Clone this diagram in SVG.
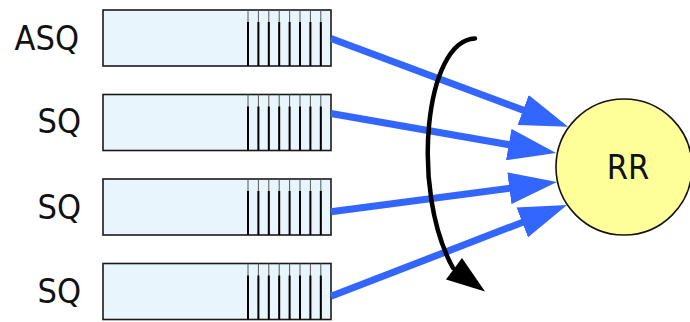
<svg xmlns="http://www.w3.org/2000/svg" width="690" height="322" viewBox="0 0 690 322">
<defs>
<style>
.lbl{font-family:"DejaVu Sans","Liberation Sans",sans-serif;font-stretch:condensed;font-size:34px;fill:#111}
.box{fill:#E9F5FD;stroke:#1a1a1a;stroke-width:1.6}
.thin{stroke:#555;stroke-width:1}
.slot{stroke:#000;stroke-width:2}
.flow{stroke:#3366FF;stroke-width:7;fill:none}
</style>
<marker id="ah" markerUnits="userSpaceOnUse" markerWidth="48" markerHeight="32" viewBox="0 0 48 32" refX="8" refY="16" orient="auto">
<path d="M0,0 L48,16 L0,32 z" fill="#3366FF"/>
</marker>
<g id="queue">
<rect class="box" x="103" y="0" width="228" height="56"/>
<g class="thin">
<line x1="248" y1="0" x2="248" y2="56"/><line x1="258.4" y1="0" x2="258.4" y2="56"/><line x1="268.8" y1="0" x2="268.8" y2="56"/><line x1="279.2" y1="0" x2="279.2" y2="56"/><line x1="289.6" y1="0" x2="289.6" y2="56"/><line x1="300" y1="0" x2="300" y2="56"/><line x1="310.4" y1="0" x2="310.4" y2="56"/><line x1="320.8" y1="0" x2="320.8" y2="56"/>
</g>
<g class="slot">
<line x1="248" y1="12" x2="248" y2="56"/><line x1="258.4" y1="12" x2="258.4" y2="56"/><line x1="268.8" y1="12" x2="268.8" y2="56"/><line x1="279.2" y1="12" x2="279.2" y2="56"/><line x1="289.6" y1="12" x2="289.6" y2="56"/><line x1="300" y1="12" x2="300" y2="56"/><line x1="310.4" y1="12" x2="310.4" y2="56"/><line x1="320.8" y1="12" x2="320.8" y2="56"/>
</g>
</g>
</defs>
<rect width="690" height="322" fill="#fff"/>
<g id="q1"><use href="#queue" y="10"/><text class="lbl" x="79" y="50" text-anchor="end">ASQ</text></g>
<g id="q2"><use href="#queue" y="94.5"/><text class="lbl" x="81" y="133" text-anchor="end">SQ</text></g>
<g id="q3"><use href="#queue" y="179"/><text class="lbl" x="81" y="218.5" text-anchor="end">SQ</text></g>
<g id="q4"><use href="#queue" y="263.5"/><text class="lbl" x="81" y="302.5" text-anchor="end">SQ</text></g>
<g id="rr">
<ellipse cx="624" cy="167" rx="68" ry="68" fill="#FFFF99" stroke="#111" stroke-width="1.6"/>
<text class="lbl" x="628" y="179" text-anchor="middle">RR</text>
</g>
<g id="connectors">
<line class="flow" x1="331" y1="38.5" x2="530.6" y2="112.9" marker-end="url(#ah)"/>
<line class="flow" x1="331" y1="113.5" x2="516.6" y2="146" marker-end="url(#ah)"/>
<line class="flow" x1="331" y1="211.7" x2="517.3" y2="187.2" marker-end="url(#ah)"/>
<line class="flow" x1="331" y1="296.3" x2="529.7" y2="219.5" marker-end="url(#ah)"/>
<path d="M475,38.5 C425,40 410,190 453,268" fill="none" stroke="#000" stroke-width="4.5" stroke-linecap="round"/>
<polygon points="485,291.5 446,279.5 462,258" fill="#000"/>
</g>
</svg>
